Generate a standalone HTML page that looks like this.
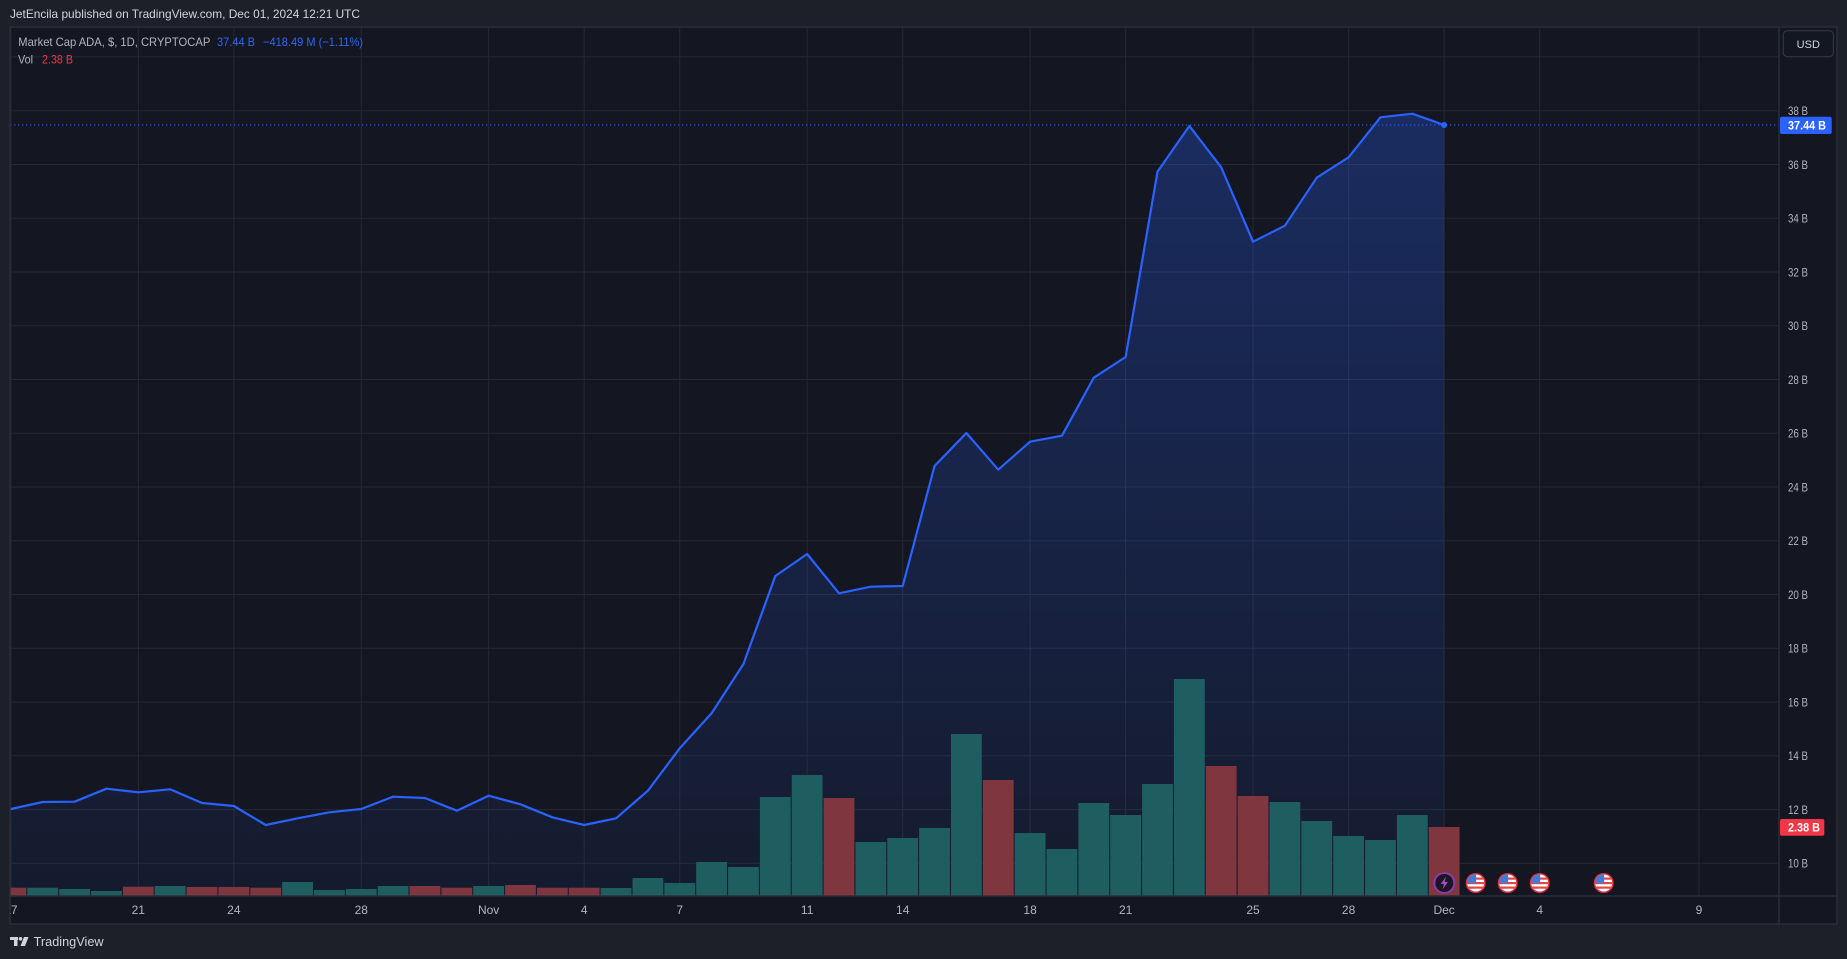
<!DOCTYPE html>
<html>
<head>
<meta charset="utf-8">
<style>
html,body{margin:0;padding:0;background:#1e2029;}
svg{display:block;}
text{font-family:"Liberation Sans",sans-serif;}
</style>
</head>
<body>
<svg width="1847" height="959" viewBox="0 0 1847 959" xmlns="http://www.w3.org/2000/svg">
<defs>
<linearGradient id="af" gradientUnits="userSpaceOnUse" x1="0" y1="113" x2="0" y2="896">
<stop offset="0" stop-color="#2962ff" stop-opacity="0.28"/>
<stop offset="1" stop-color="#2962ff" stop-opacity="0.05"/>
</linearGradient>
<clipPath id="plot"><rect x="10" y="27" width="1769" height="869"/></clipPath>
<clipPath id="taxis"><rect x="10" y="896" width="1769" height="28"/></clipPath>
<clipPath id="fc"><circle cx="0" cy="0" r="8.5"/></clipPath>
<g id="flag">
<circle cx="0" cy="0" r="10" fill="#e0303a"/>
<g clip-path="url(#fc)">
<rect x="-9" y="-9" width="18" height="18" fill="#ffffff"/>
<rect x="-9" y="-5.5" width="18" height="2.2" fill="#e04848"/>
<rect x="-9" y="-1" width="18" height="2.2" fill="#e04848"/>
<rect x="-9" y="3.5" width="18" height="2.2" fill="#e04848"/>
<rect x="-9" y="-9" width="9.5" height="9" fill="#3a7be0"/>
</g>
</g>
</defs>

<!-- outer background -->
<rect x="0" y="0" width="1847" height="959" fill="#1e2029"/>
<!-- header -->
<text x="10" y="18" font-size="12" fill="#d1d4dc" textLength="350" lengthAdjust="spacingAndGlyphs">JetEncila published on TradingView.com, Dec 01, 2024 12:21 UTC</text>

<!-- chart panel -->
<rect x="10" y="27" width="1827" height="897" fill="#141722"/>

<g clip-path="url(#plot)">
<!-- horizontal grid -->
<g stroke="#252935" stroke-width="1">
<line x1="10" x2="1779" y1="56.9" y2="56.9"/>
<line x1="10" x2="1779" y1="110.7" y2="110.7"/>
<line x1="10" x2="1779" y1="164.5" y2="164.5"/>
<line x1="10" x2="1779" y1="218.2" y2="218.2"/>
<line x1="10" x2="1779" y1="272" y2="272"/>
<line x1="10" x2="1779" y1="325.7" y2="325.7"/>
<line x1="10" x2="1779" y1="379.5" y2="379.5"/>
<line x1="10" x2="1779" y1="433.3" y2="433.3"/>
<line x1="10" x2="1779" y1="487" y2="487"/>
<line x1="10" x2="1779" y1="540.8" y2="540.8"/>
<line x1="10" x2="1779" y1="594.5" y2="594.5"/>
<line x1="10" x2="1779" y1="648.3" y2="648.3"/>
<line x1="10" x2="1779" y1="702.1" y2="702.1"/>
<line x1="10" x2="1779" y1="755.8" y2="755.8"/>
<line x1="10" x2="1779" y1="809.6" y2="809.6"/>
<line x1="10" x2="1779" y1="863.3" y2="863.3"/>
</g>
<!-- vertical grid -->
<g stroke="#252935" stroke-width="1">
<line x1="10.9" x2="10.9" y1="27" y2="896"/>
<line x1="138.3" x2="138.3" y1="27" y2="896"/>
<line x1="233.85" x2="233.85" y1="27" y2="896"/>
<line x1="361.25" x2="361.25" y1="27" y2="896"/>
<line x1="488.65" x2="488.65" y1="27" y2="896"/>
<line x1="584.2" x2="584.2" y1="27" y2="896"/>
<line x1="679.75" x2="679.75" y1="27" y2="896"/>
<line x1="807.15" x2="807.15" y1="27" y2="896"/>
<line x1="902.7" x2="902.7" y1="27" y2="896"/>
<line x1="1030.1" x2="1030.1" y1="27" y2="896"/>
<line x1="1125.65" x2="1125.65" y1="27" y2="896"/>
<line x1="1253.05" x2="1253.05" y1="27" y2="896"/>
<line x1="1348.6" x2="1348.6" y1="27" y2="896"/>
<line x1="1444.15" x2="1444.15" y1="27" y2="896"/>
<line x1="1539.7" x2="1539.7" y1="27" y2="896"/>
<line x1="1698.95" x2="1698.95" y1="27" y2="896"/>
</g>

<!-- area fill -->
<polygon fill="url(#af)" points="10,809 10.9,809 42.75,802 74.6,801.7 106.45,788.7 138.3,792.3 170.15,789.3 202,803 233.85,806 265.7,825 297.55,818.3 329.4,812.3 361.25,809 393.1,796.7 424.95,798 456.8,810.7 488.65,795.7 520.5,804.3 552.35,817.3 584.2,825 616.05,818.3 647.9,790.7 679.75,748.3 711.6,713.3 743.45,664 775.3,576 807.15,554 839,593.3 870.85,586.7 902.7,586 934.55,466 966.4,433 998.25,469.7 1030.1,441.7 1061.95,435.7 1093.8,377.7 1125.65,357 1157.5,171.7 1189.35,126 1221.2,167.3 1253.05,241.7 1284.9,225.7 1316.75,177.7 1348.6,157.3 1380.45,117.3 1412.3,113.7 1444.15,125 1444.15,896 10,896"/>

<!-- volume bars -->
<g fill="#1f5e60">
<rect x="27.35" y="887.7" width="30.8" height="8.3"/>
<rect x="59.2" y="889" width="30.8" height="7"/>
<rect x="91.05" y="891" width="30.8" height="5"/>
<rect x="154.75" y="886" width="30.8" height="10"/>
<rect x="282.15" y="882" width="30.8" height="14"/>
<rect x="314" y="890" width="30.8" height="6"/>
<rect x="345.85" y="889" width="30.8" height="7"/>
<rect x="377.7" y="886" width="30.8" height="10"/>
<rect x="473.25" y="886" width="30.8" height="10"/>
<rect x="600.65" y="888" width="30.8" height="8"/>
<rect x="632.5" y="878" width="30.8" height="18"/>
<rect x="664.35" y="883" width="30.8" height="13"/>
<rect x="696.2" y="862" width="30.8" height="34"/>
<rect x="728.05" y="867" width="30.8" height="29"/>
<rect x="759.9" y="797" width="30.8" height="99"/>
<rect x="791.75" y="775" width="30.8" height="121"/>
<rect x="855.45" y="842" width="30.8" height="54"/>
<rect x="887.3" y="838" width="30.8" height="58"/>
<rect x="919.15" y="828" width="30.8" height="68"/>
<rect x="951" y="734" width="30.8" height="162"/>
<rect x="1014.7" y="833" width="30.8" height="63"/>
<rect x="1046.55" y="849" width="30.8" height="47"/>
<rect x="1078.4" y="803" width="30.8" height="93"/>
<rect x="1110.25" y="815" width="30.8" height="81"/>
<rect x="1142.1" y="784" width="30.8" height="112"/>
<rect x="1173.95" y="679" width="30.8" height="217"/>
<rect x="1269.5" y="802" width="30.8" height="94"/>
<rect x="1301.35" y="821" width="30.8" height="75"/>
<rect x="1333.2" y="836" width="30.8" height="60"/>
<rect x="1365.05" y="840" width="30.8" height="56"/>
<rect x="1396.9" y="815" width="30.8" height="81"/>
</g>
<g fill="#80363e">
<rect x="-4.5" y="887.7" width="30.8" height="8.3"/>
<rect x="122.9" y="886.7" width="30.8" height="9.3"/>
<rect x="186.6" y="887" width="30.8" height="9"/>
<rect x="218.45" y="887" width="30.8" height="9"/>
<rect x="250.3" y="887.7" width="30.8" height="8.3"/>
<rect x="409.55" y="886" width="30.8" height="10"/>
<rect x="441.4" y="887.7" width="30.8" height="8.3"/>
<rect x="505.1" y="885" width="30.8" height="11"/>
<rect x="536.95" y="887.7" width="30.8" height="8.3"/>
<rect x="568.8" y="887.7" width="30.8" height="8.3"/>
<rect x="823.6" y="798" width="30.8" height="98"/>
<rect x="982.85" y="780" width="30.8" height="116"/>
<rect x="1205.8" y="766" width="30.8" height="130"/>
<rect x="1237.65" y="796" width="30.8" height="100"/>
<rect x="1428.75" y="827" width="30.8" height="69"/>
</g>

<!-- price line dotted -->
<line x1="10" x2="1779" y1="125" y2="125" stroke="#2962ff" stroke-width="1" stroke-dasharray="1.3 2.7"/>

<!-- main line -->
<polyline fill="none" stroke="#2962ff" stroke-width="2.2" stroke-linejoin="round" points="10,809 10.9,809 42.75,802 74.6,801.7 106.45,788.7 138.3,792.3 170.15,789.3 202,803 233.85,806 265.7,825 297.55,818.3 329.4,812.3 361.25,809 393.1,796.7 424.95,798 456.8,810.7 488.65,795.7 520.5,804.3 552.35,817.3 584.2,825 616.05,818.3 647.9,790.7 679.75,748.3 711.6,713.3 743.45,664 775.3,576 807.15,554 839,593.3 870.85,586.7 902.7,586 934.55,466 966.4,433 998.25,469.7 1030.1,441.7 1061.95,435.7 1093.8,377.7 1125.65,357 1157.5,171.7 1189.35,126 1221.2,167.3 1253.05,241.7 1284.9,225.7 1316.75,177.7 1348.6,157.3 1380.45,117.3 1412.3,113.7 1444.15,125"/>
<circle cx="1444.15" cy="125" r="3" fill="#2962ff"/>

<!-- events -->
<g transform="translate(1444.3,883)">
<circle cx="0" cy="0" r="10" fill="#1c1526" stroke="#8e3aa8" stroke-width="2"/>
<path d="M1.8,-6.5 L-3.6,1 L-0.3,1 L-1.8,6.5 L3.6,-1 L0.3,-1 Z" fill="#a84cc8"/>
</g>
<use href="#flag" transform="translate(1475.7,883)"/>
<use href="#flag" transform="translate(1507.7,883)"/>
<use href="#flag" transform="translate(1539.7,883)"/>
<use href="#flag" transform="translate(1603.7,883)"/>
</g>

<!-- legend -->
<text x="18.3" y="46" font-size="12" fill="#b2b5be" textLength="192" lengthAdjust="spacingAndGlyphs">Market Cap ADA, $, 1D, CRYPTOCAP</text>
<text x="217" y="46" font-size="12" fill="#2f66f0" textLength="38" lengthAdjust="spacingAndGlyphs">37.44 B</text>
<text x="263" y="46" font-size="12" fill="#2f66f0" textLength="100" lengthAdjust="spacingAndGlyphs">−418.49 M (−1.11%)</text>
<text x="18" y="63.5" font-size="12" fill="#b2b5be" textLength="15" lengthAdjust="spacingAndGlyphs">Vol</text>
<text x="42" y="63.5" font-size="12" fill="#f23645" textLength="31" lengthAdjust="spacingAndGlyphs">2.38 B</text>

<!-- axes lines / borders -->
<line x1="10" x2="1837" y1="896" y2="896" stroke="#2a2e39" stroke-width="1.5"/>
<line x1="1779" x2="1779" y1="27" y2="924" stroke="#2a2e39" stroke-width="1.5"/>
<rect x="10" y="27" width="1827" height="897" fill="none" stroke="#2a2e39" stroke-width="1.5"/>

<!-- price axis labels -->
<g font-size="12" fill="#b2b5be">
<text x="1788" y="115" textLength="20" lengthAdjust="spacingAndGlyphs">38 B</text>
<text x="1788" y="168.8" textLength="20" lengthAdjust="spacingAndGlyphs">36 B</text>
<text x="1788" y="222.5" textLength="20" lengthAdjust="spacingAndGlyphs">34 B</text>
<text x="1788" y="276.3" textLength="20" lengthAdjust="spacingAndGlyphs">32 B</text>
<text x="1788" y="330" textLength="20" lengthAdjust="spacingAndGlyphs">30 B</text>
<text x="1788" y="383.8" textLength="20" lengthAdjust="spacingAndGlyphs">28 B</text>
<text x="1788" y="437.6" textLength="20" lengthAdjust="spacingAndGlyphs">26 B</text>
<text x="1788" y="491.3" textLength="20" lengthAdjust="spacingAndGlyphs">24 B</text>
<text x="1788" y="545.1" textLength="20" lengthAdjust="spacingAndGlyphs">22 B</text>
<text x="1788" y="598.8" textLength="20" lengthAdjust="spacingAndGlyphs">20 B</text>
<text x="1788" y="652.6" textLength="20" lengthAdjust="spacingAndGlyphs">18 B</text>
<text x="1788" y="706.4" textLength="20" lengthAdjust="spacingAndGlyphs">16 B</text>
<text x="1788" y="760.1" textLength="20" lengthAdjust="spacingAndGlyphs">14 B</text>
<text x="1788" y="813.9" textLength="20" lengthAdjust="spacingAndGlyphs">12 B</text>
<text x="1788" y="867.6" textLength="20" lengthAdjust="spacingAndGlyphs">10 B</text>
</g>

<!-- USD button -->
<rect x="1783.3" y="30.7" width="50" height="26" rx="4" fill="#131722" stroke="#363a45" stroke-width="1"/>
<text x="1808.3" y="48" font-size="11" fill="#d1d4dc" text-anchor="middle">USD</text>

<!-- last price label -->
<rect x="1780" y="116.7" width="51.7" height="17.3" rx="2" fill="#2962ff"/>
<text x="1788" y="129.6" font-size="12" font-weight="bold" fill="#ffffff" textLength="38" lengthAdjust="spacingAndGlyphs">37.44 B</text>
<!-- volume label -->
<rect x="1780" y="819" width="44.3" height="16.7" rx="2" fill="#f23645"/>
<text x="1788" y="831.6" font-size="12" font-weight="bold" fill="#ffffff" textLength="32" lengthAdjust="spacingAndGlyphs">2.38 B</text>

<!-- time axis labels -->
<g font-size="12" fill="#b2b5be" text-anchor="middle">
<g clip-path="url(#taxis)"><text x="10.9" y="914">17</text></g>
<text x="138.3" y="914">21</text>
<text x="233.85" y="914">24</text>
<text x="361.25" y="914">28</text>
<text x="488.65" y="914">Nov</text>
<text x="584.2" y="914">4</text>
<text x="679.75" y="914">7</text>
<text x="807.15" y="914">11</text>
<text x="902.7" y="914">14</text>
<text x="1030.1" y="914">18</text>
<text x="1125.65" y="914">21</text>
<text x="1253.05" y="914">25</text>
<text x="1348.6" y="914">28</text>
<text x="1444.15" y="914">Dec</text>
<text x="1539.7" y="914">4</text>
<text x="1698.95" y="914">9</text>
</g>

<!-- footer logo -->
<g fill="#d1d4dc">
<rect x="10" y="937" width="8" height="3"/>
<rect x="14" y="937" width="3.5" height="9"/>
<circle cx="20.5" cy="938.8" r="1.8"/>
<path d="M24,937 L28.5,937 L25,946 L20.5,946 Z"/>
</g>
<text x="33.6" y="946" font-size="13" fill="#d1d4dc" textLength="70" lengthAdjust="spacingAndGlyphs">TradingView</text>
</svg>
</body>
</html>
